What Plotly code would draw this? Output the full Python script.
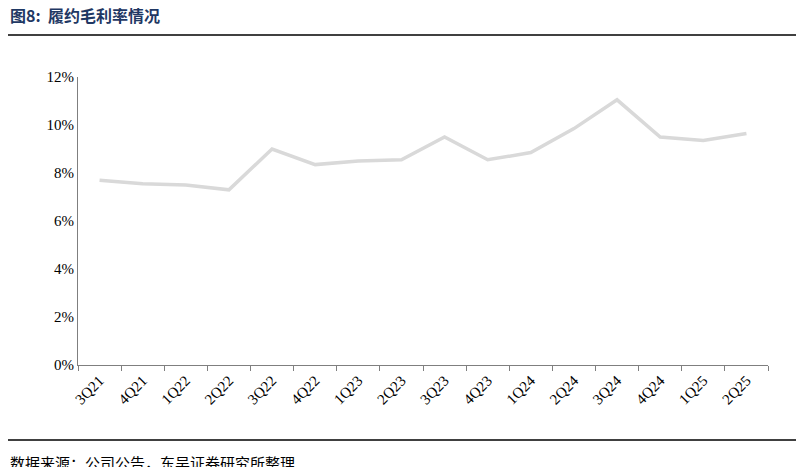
import plotly.graph_objects as go

quarters = ["3Q21", "4Q21", "1Q22", "2Q22", "3Q22", "4Q22", "1Q23", "2Q23",
            "3Q23", "4Q23", "1Q24", "2Q24", "3Q24", "4Q24", "1Q25", "2Q25"]
margin_pct = [0.077, 0.0755, 0.075, 0.073, 0.090, 0.0835, 0.085, 0.0855,
              0.095, 0.0855, 0.0885, 0.0985, 0.1105, 0.095, 0.0935, 0.0965]

# page body has an 8px margin, so the figure is sized to fit inside it
W, H = 788, 459
L, R, T, B = 70, 28, 69, 102
pw, ph = W - L - R, H - T - B

fig = go.Figure()
fig.add_trace(go.Scatter(
    x=quarters, y=margin_pct, mode="lines",
    line=dict(color="#d9d9d9", width=3.5),
))

fig.update_layout(
    width=W, height=H,
    margin=dict(l=L, r=R, t=T, b=B),
    paper_bgcolor="white", plot_bgcolor="white",
    showlegend=False,
    font=dict(family="Liberation Serif", size=15, color="black"),
    xaxis=dict(
        tickangle=-45, showline=True, linecolor="#7f7f7f", linewidth=1,
        ticks="outside", tickson="boundaries", ticklen=5, tickcolor="#7f7f7f",
        range=[-0.5, 15.5],
    ),
    yaxis=dict(
        range=[0, 0.12], dtick=0.02, tickformat=".0%",
        showgrid=False, showline=True, linecolor="#7f7f7f", linewidth=1,
        ticks="", zeroline=False,
    ),
)

# title and source text with the separating rules
fig.add_annotation(
    text="<b>图8:  履约毛利率情况</b>", xref="paper", yref="paper",
    x=-L / pw, y=1 + 62 / ph, xanchor="left", yanchor="middle", showarrow=False,
    font=dict(family="Noto Sans CJK SC", size=16, color="#1f3864"),
)
fig.add_annotation(
    text="数据来源：公司公告，东吴证券研究所整理", xref="paper", yref="paper",
    x=-L / pw, y=-97 / ph, xanchor="left", yanchor="middle", showarrow=False,
    font=dict(family="Noto Sans CJK SC", size=15, color="black"),
)
fig.add_shape(type="line", xref="paper", yref="paper",
              x0=-L / pw, x1=1 + R / pw, y0=1 + 42 / ph, y1=1 + 42 / ph,
              line=dict(color="black", width=1.5))
fig.add_shape(type="line", xref="paper", yref="paper",
              x0=-L / pw, x1=1 + R / pw, y0=-75 / ph, y1=-75 / ph,
              line=dict(color="black", width=1.5))

fig.write_html("out.html")
